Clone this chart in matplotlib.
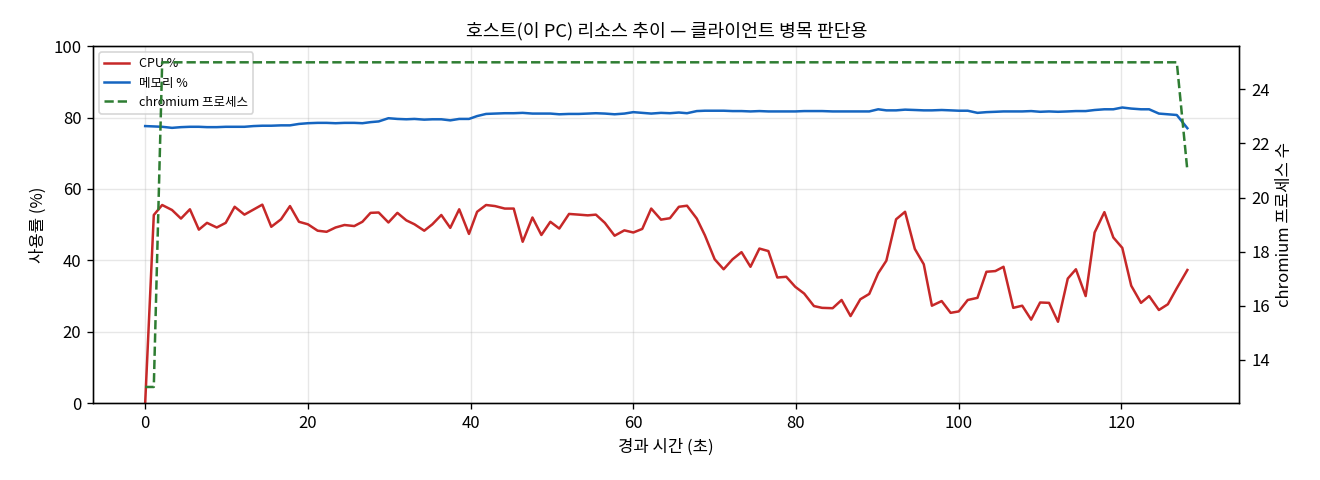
import matplotlib
matplotlib.use('Agg')
import matplotlib.pyplot as plt

plt.rcParams['font.family'] = ['Noto Sans CJK KR', 'DejaVu Sans']

# 경과 시간 (초)
elapsed = [
    0, 1.06, 2.09, 3.3, 4.4, 5.5, 6.6, 7.6, 8.8, 9.9,
    11.0, 12.2, 13.3, 14.4, 15.5, 16.7, 17.8, 18.9, 20.0, 21.2,
    22.3, 23.4, 24.5, 25.7, 26.7, 27.7, 28.7, 29.9, 31.0, 32.1,
    33.1, 34.3, 35.3, 36.4, 37.5, 38.6, 39.8, 40.8, 41.9, 43.0,
    44.2, 45.3, 46.4, 47.6, 48.7, 49.8, 50.9, 52.1,
    53.3, 54.4, 55.4, 56.5, 57.7, 58.9, 60.0, 61.1, 62.2, 63.4,
    64.5, 65.6, 66.6, 67.8, 68.8, 70.0, 71.1, 72.2, 73.3, 74.4,
    75.5, 76.6, 77.7, 78.8, 79.9, 81.0, 82.2, 83.2, 84.5, 85.6,
    86.7, 87.9, 89.0, 90.1, 91.1, 92.3, 93.4, 94.6, 95.7, 96.7,
    97.9, 99.0, 100.0, 101.1, 102.3, 103.4, 104.5, 105.5, 106.7, 107.8,
    108.9, 110.0, 111.1, 112.2, 113.4, 114.4, 115.6, 116.7, 117.9, 119.0,
    120.1, 121.2, 122.4, 123.4, 124.6, 125.7, 126.8, 128.1,
]

cpu = [
    0, 52.7, 55.5, 54.1, 51.7, 54.3, 48.6, 50.5, 49.2, 50.5,
    55.0, 52.8, 54.2, 55.6, 49.4, 51.5, 55.2, 50.8, 50.1, 48.3,
    48.0, 49.2, 49.9, 49.6, 50.8, 53.3, 53.4, 50.6, 53.3, 51.2,
    50.1, 48.3, 50.1, 52.7, 49.1, 54.3, 47.4, 53.6, 55.5, 55.2,
    54.5, 54.5, 45.2, 52.0, 47.1, 50.8, 48.9, 53.0,
    52.8, 52.6, 52.8, 50.5, 46.9, 48.4, 47.8, 48.8, 54.5, 51.4,
    51.8, 55.0, 55.3, 51.7, 47.0, 40.3, 37.5, 40.3, 42.3, 38.2,
    43.3, 42.6, 35.2, 35.4, 32.6, 30.7, 27.2, 26.7, 26.6, 28.9,
    24.4, 29.1, 30.6, 36.4, 39.9, 51.5, 53.6, 43.2, 38.9, 27.3,
    28.6, 25.3, 25.7, 28.9, 29.5, 36.8, 37.0, 38.2, 26.7, 27.3,
    23.4, 28.2, 28.1, 22.8, 34.9, 37.5, 30.0, 47.8, 53.5, 46.4,
    43.5, 32.9, 28.1, 30.0, 26.1, 27.7, 32.2, 37.3,
]

mem = [
    77.6, 77.5, 77.4, 77.1, 77.3, 77.4, 77.4, 77.3, 77.3, 77.4,
    77.4, 77.4, 77.6, 77.7, 77.7, 77.8, 77.8, 78.2, 78.4, 78.5,
    78.5, 78.4, 78.5, 78.5, 78.4, 78.7, 78.9, 79.8, 79.6, 79.5,
    79.6, 79.4, 79.5, 79.5, 79.2, 79.6, 79.6, 80.4, 81.0, 81.1,
    81.2, 81.2, 81.3, 81.1, 81.1, 81.1, 80.9, 81.0,
    81.0, 81.1, 81.2, 81.1, 80.9, 81.1, 81.5, 81.3, 81.1, 81.3,
    81.2, 81.4, 81.2, 81.8, 81.9, 81.9, 81.9, 81.8, 81.8, 81.7,
    81.8, 81.7, 81.7, 81.7, 81.7, 81.8, 81.8, 81.8, 81.7, 81.7,
    81.7, 81.7, 81.7, 82.3, 82.0, 82.0, 82.2, 82.1, 82.0, 82.0,
    82.1, 82.0, 81.9, 81.9, 81.3, 81.5, 81.6, 81.7, 81.7, 81.7,
    81.8, 81.6, 81.7, 81.6, 81.7, 81.8, 81.8, 82.1, 82.3, 82.3,
    82.8, 82.5, 82.3, 82.3, 81.1, 80.9, 80.7, 77.0,
]

# chromium 프로세스 수: 처음 두 샘플 13개, 마지막 샘플 21개, 그 사이는 25개
chromium = [13, 13] + [25] * 113 + [21]

fig, ax = plt.subplots(figsize=(11, 4), dpi=120)
fig.subplots_adjust(left=0.0705, right=0.939, top=0.904, bottom=0.16)

l_cpu, = ax.plot(elapsed, cpu, color='#c62828', lw=1.5, label='CPU %')
l_mem, = ax.plot(elapsed, mem, color='#1565c0', lw=1.5, label='메모리 %')
ax.set_ylim(0, 100)
ax.set_xlabel('경과 시간 (초)', fontsize=10)
ax.set_ylabel('사용률 (%)', fontsize=10)
ax.set_title('호스트(이 PC) 리소스 추이 — 클라이언트 병목 판단용', fontsize=11)
ax.grid(alpha=0.3)
ax.tick_params(labelsize=10)

ax2 = ax.twinx()
l_chr, = ax2.plot(elapsed, chromium, color='#2e7d32', lw=1.5, ls='--',
                  label='chromium 프로세스')
ax2.set_ylabel('chromium 프로세스 수', fontsize=10)
ax2.tick_params(labelsize=10)

ax.legend(handles=[l_cpu, l_mem, l_chr], loc='upper left', fontsize=7.5)

fig.savefig('out.png')
